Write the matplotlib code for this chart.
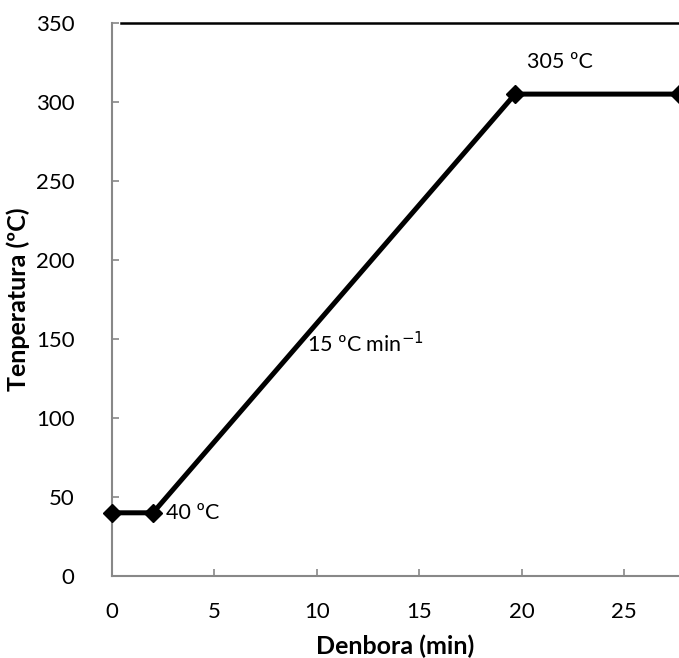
import matplotlib
matplotlib.use('Agg')
import matplotlib.pyplot as plt

# temperature programme
time_min = [0, 2, 19.67, 27.67]
temp_c = [40, 40, 305, 305]

x_ticks = [0, 5, 10, 15, 20, 25]
y_ticks = [0, 50, 100, 150, 200, 250, 300, 350]

plt.rcParams['font.family'] = ['Lato', 'DejaVu Sans']

fig = plt.figure(figsize=(6.79, 6.58), dpi=100)
ax = fig.add_axes([112 / 679, 1 - 576 / 658, 1 - 112 / 679, (576 - 23) / 658])

ax.plot(time_min, temp_c, color='black', lw=3.6, marker='D', markersize=9,
        clip_on=False, zorder=3)

ax.set_xlim(0, 27.67)
ax.set_ylim(0, 350)
ax.set_xticks(x_ticks)
ax.set_yticks(y_ticks)
ax.tick_params(direction='in', length=5, width=1.2, color='#888888',
               labelsize=16)
ax.tick_params(axis='y', pad=27)
ax.tick_params(axis='x', pad=19)

for side in ['left', 'bottom']:
    ax.spines[side].set_color('#888888')
    ax.spines[side].set_linewidth(1.5)
ax.spines['right'].set_visible(False)
ax.spines['top'].set_visible(False)
ax.axhline(350, xmin=0.015, color='black', lw=1.8, clip_on=False)

ax.set_xlabel('Denbora (min)', fontsize=18, fontweight='bold', labelpad=9)
ax.set_ylabel('Tenperatura (ºC)', fontsize=18, fontweight='bold', labelpad=4)

ax.text(2.65, 40, '40 ºC', fontsize=15.5, va='center', ha='left')
ax.text(20.25, 325, '305 ºC', fontsize=15.5, va='center', ha='left')
ax.text(9.5, 147, '15 ºC min$^{-1}$', fontsize=15.5, va='center', ha='left')

fig.savefig('out.png', dpi=100)
